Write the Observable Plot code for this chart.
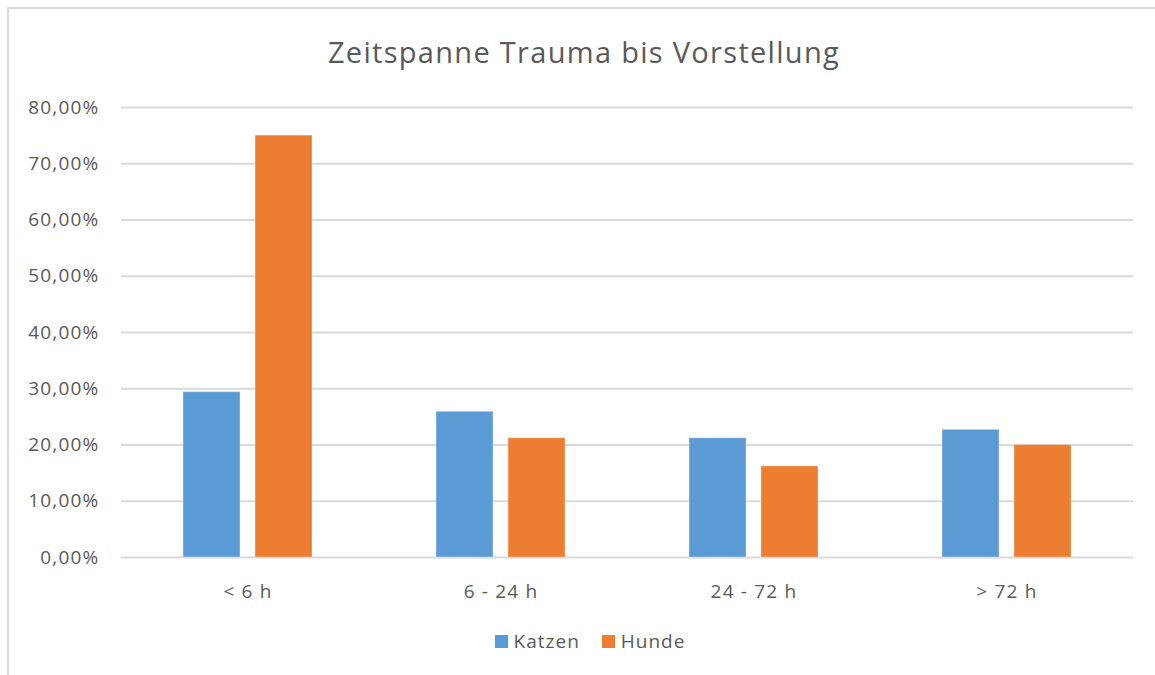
<!DOCTYPE html>
<html>
<head>
<meta charset="utf-8">
<script src="https://cdn.jsdelivr.net/npm/d3@7"></script>
<script src="https://cdn.jsdelivr.net/npm/@observablehq/plot@0.6"></script>
<style>
  html, body { margin: 0; padding: 0; background: #fff; }
  body { width: 1155px; height: 675px; position: relative; overflow: hidden; font-family: "Open Sans", sans-serif; color: #595959; }
  #frame { position: absolute; left: 7px; top: 7px; width: 1300px; height: 800px; border-left: 2px solid #d9d9d9; border-top: 2px solid #d9d9d9; }
  #title { position: absolute; left: 0; top: 32px; width: 1168px; text-align: center; font-size: 29px; letter-spacing: 1.3px; color: #595959; }
  #chart { position: absolute; left: 0; top: 80px; }
  #legend { position: absolute; left: 0; top: 628px; width: 1180px; display: flex; justify-content: center; align-items: center; font-size: 19px; letter-spacing: 1px; color: #595959; }
  .item { display: flex; align-items: center; margin: 0 11px; }
  .sw { width: 13px; height: 13px; margin-right: 6px; }
</style>
</head>
<body>
<div id="frame"></div>
<div id="title">Zeitspanne Trauma bis Vorstellung</div>
<div id="chart"></div>
<div id="legend"></div>
<script>
const categories = ["< 6 h", "6 - 24 h", "24 - 72 h", "> 72 h"];
const seriesNames = ["Katzen", "Hunde"];
const katzen = [29.4, 25.9, 21.2, 22.7];
const hunde = [75.0, 21.2, 16.2, 20.0];
const yTicks = [0, 10, 20, 30, 40, 50, 60, 70, 80];
const colors = ["#5B9BD5", "#ED7D31"];

const data = [];
categories.forEach((c, i) => {
  data.push({cat: c, animal: "Katzen", value: katzen[i]});
  data.push({cat: c, animal: "Hunde", value: hunde[i]});
});

const fmt = d => d.toFixed(2).replace(".", ",") + "%";

const chart = Plot.plot({
  width: 1155,
  height: 527,
  marginLeft: 120,
  marginRight: 22,
  marginTop: 27,
  marginBottom: 50,
  style: {fontFamily: "Open Sans, sans-serif", fontSize: "19px", letterSpacing: "1.2px", color: "#595959", background: "transparent"},
  fx: {domain: categories, padding: 0, label: null},
  x: {domain: seriesNames, paddingInner: 0.215, paddingOuter: 0.861, axis: null},
  y: {domain: [0, 80], label: null},
  color: {domain: seriesNames, range: colors},
  marks: [
    Plot.gridY(yTicks, {stroke: "#d9d9d9", strokeOpacity: 1, strokeWidth: 2}),
    Plot.barY(data, {fx: "cat", x: "animal", y: "value", fill: "animal", stroke: "#ffffff", strokeOpacity: 0.35, strokeWidth: 1}),
    Plot.axisY(yTicks, {tickSize: 0, tickPadding: 22, tickFormat: fmt, label: null, fill: "#595959"}),
    Plot.axisFx({anchor: "bottom", tickSize: 0, tickPadding: 27, label: null, fill: "#595959"})
  ]
});
document.getElementById("chart").appendChild(chart);

const legend = document.getElementById("legend");
seriesNames.forEach((n, i) => {
  const it = document.createElement("div");
  it.className = "item";
  const sw = document.createElement("div");
  sw.className = "sw";
  sw.style.background = colors[i];
  const t = document.createElement("span");
  t.textContent = n;
  it.appendChild(sw); it.appendChild(t);
  legend.appendChild(it);
});
</script>
</body>
</html>
